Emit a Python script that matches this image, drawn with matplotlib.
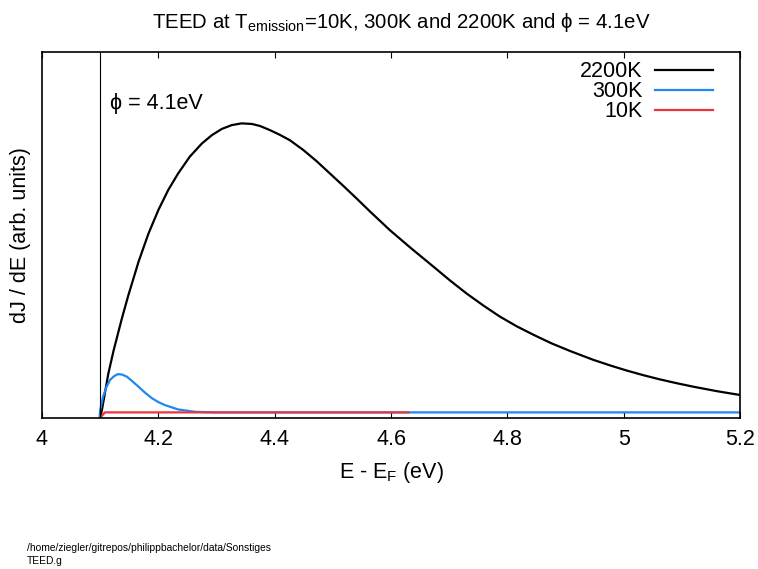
import matplotlib
matplotlib.use('Agg')
import matplotlib.pyplot as plt

plt.rcParams['font.family'] = ['Liberation Sans', 'DejaVu Sans']
plt.rcParams['mathtext.fontset'] = 'custom'
plt.rcParams['mathtext.rm'] = 'Liberation Sans'
plt.rcParams['mathtext.it'] = 'Liberation Sans'

# 2200K curve (arb. units, peak ~1)
e_2200 = [4.100, 4.103, 4.114, 4.123, 4.137, 4.148, 4.166, 4.183, 4.200, 4.217,
          4.234, 4.254, 4.275, 4.292, 4.309, 4.326, 4.343, 4.361, 4.375, 4.392,
          4.409, 4.426, 4.449, 4.472, 4.495, 4.518, 4.541, 4.564, 4.598, 4.633,
          4.673, 4.701, 4.730, 4.759, 4.787, 4.816, 4.845, 4.876, 4.908, 4.948,
          4.977, 5.005, 5.034, 5.062, 5.091, 5.120, 5.160, 5.200]
j_2200 = [0.000, 0.027, 0.150, 0.228, 0.335, 0.413, 0.530, 0.625, 0.705, 0.773,
          0.829, 0.886, 0.931, 0.959, 0.980, 0.993, 0.999, 0.997, 0.990, 0.976,
          0.960, 0.942, 0.909, 0.871, 0.829, 0.787, 0.744, 0.700, 0.637, 0.578,
          0.513, 0.467, 0.422, 0.381, 0.344, 0.311, 0.282, 0.253, 0.227, 0.197,
          0.178, 0.161, 0.145, 0.131, 0.118, 0.106, 0.091, 0.078]

# 300K curve
e_300 = [4.099, 4.100, 4.105, 4.111, 4.117, 4.124, 4.131, 4.138, 4.146, 4.155,
         4.166, 4.177, 4.189, 4.200, 4.211, 4.234, 4.263, 4.297, 4.500, 4.800,
         5.200]
j_300 = [0.000, 0.027, 0.072, 0.106, 0.129, 0.142, 0.149, 0.147, 0.140, 0.125,
         0.106, 0.086, 0.067, 0.054, 0.044, 0.029, 0.021, 0.019, 0.019, 0.019,
         0.019]

# 10K curve
e_10 = [4.100, 4.108, 4.300, 4.630]
j_10 = [0.000, 0.019, 0.019, 0.019]

phi = 4.1
fs = 15.5

fig = plt.figure(figsize=(7.58, 5.69), dpi=100)
ax = fig.add_axes([0.0554, 0.2654, 0.9209, 0.6432])

ax.plot(e_2200, j_2200, color='black', lw=1.6, label='2200K')
ax.plot(e_300, j_300, color='#1e88f0', lw=1.6, label='300K')
ax.plot(e_10, j_10, color='#e8363c', lw=1.6, label='10K')
ax.axvline(phi, color='black', lw=0.8)

ax.set_xlim(4, 5.2)
ax.set_ylim(0, 1.241)
ax.set_xticks([4, 4.2, 4.4, 4.6, 4.8, 5, 5.2])
ax.set_xticklabels(['4', '4.2', '4.4', '4.6', '4.8', '5', '5.2'])
ax.set_yticks([])
ax.tick_params(axis='x', direction='in', top=True, length=4.5, width=0.8,
               labelsize=fs, pad=8)
for s in ax.spines.values():
    s.set_linewidth(1.2)

ax.text(4.117, 1.068, '\u03d5 = 4.1eV', fontsize=fs, va='center', ha='left')

ax.set_xlabel(r'E - E$_\mathrm{F}$ (eV)', fontsize=fs, labelpad=7)
ax.set_ylabel('dJ / dE (arb. units)', fontsize=fs, labelpad=8)
ax.set_title('TEED at T$_\\mathrm{emission}$=10K, 300K and 2200K and \u03d5 = 4.1eV',
             fontsize=14.7, pad=17, x=0.514)

ax.legend(loc='upper right', bbox_to_anchor=(0.9706, 0.992), frameon=False,
          markerfirst=False, fontsize=fs, handlelength=2.7, handletextpad=0.56,
          labelspacing=-0.05, borderaxespad=0, borderpad=0.3)

fig.text(0.036, 0.006, '/home/ziegler/gitrepos/philippbachelor/data/Sonstiges\nTEED.g',
         fontsize=7.4, va='bottom', ha='left', linespacing=1.35)

fig.savefig('out.png', dpi=100)
